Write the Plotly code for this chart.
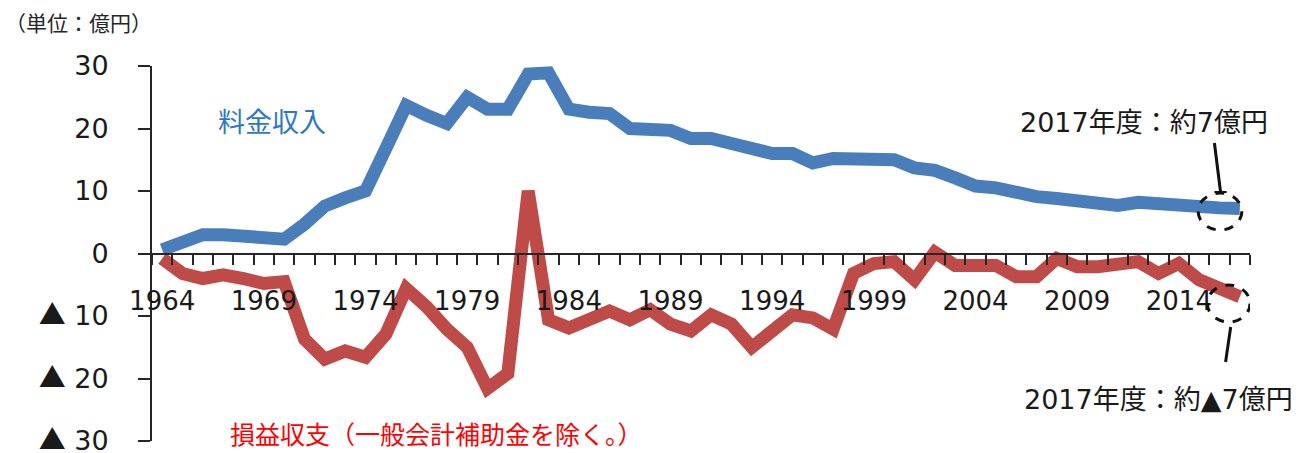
import plotly.graph_objects as go

years = list(range(1964, 2018))

# 料金収入 (億円)
revenue = [0.6, 1.8, 3.0, 3.0, 2.8, 2.3, 2.3, 4.7, 7.6, 8.9,
           10.0, 16.8, 23.7, 22.1, 20.8, 25.0, 23.1, 23.1, 28.7, 28.9,
           23.1, 22.6, 22.4, 20.0, 19.7, 19.7, 18.4, 18.4, 17.6, 16.6,
           16.0, 16.0, 14.5, 15.2, 15.0, 15.0, 15.0, 13.7, 13.3, 12.1,
           10.8, 10.5, 9.7, 9.1, 8.8, 8.4, 8.0, 7.7, 8.2, 7.9,
           7.5, 7.3, 7.3, 7.2]

# 損益収支（一般会計補助金を除く。） (億円)
balance = [-0.8, -3.2, -4.0, -3.4, -4.0, -4.8, -4.5, -13.7, -16.9, -15.6,
           -16.6, -12.9, -5.6, -8.5, -12.1, -15.0, -21.6, -19.2, 10.0, -10.6,
           -11.9, -10.6, -9.2, -10.6, -9.0, -11.3, -12.4, -9.8, -11.3, -15.0,
           -12.4, -9.8, -10.3, -12.1, -3.2, -1.6, -1.3, -4.2, 0.2, -1.9,
           -1.9, -1.9, -3.7, -3.7, -0.8, -2.1, -2.1, -1.6, -1.3, -3.2,
           -1.6, -4.2, -5.6, -6.9]

x_tick_years = [1964, 1969, 1974, 1979, 1984, 1989, 1994, 1999, 2004, 2009, 2014]
y_tick_vals = [-30, -20, -10, 0, 10, 20, 30]
TRI = "<span style='font-family:Noto Sans CJK JP'>▲</span>\u00a0"
y_tick_text = [TRI + "30", TRI + "20", TRI + "10", "0", "10", "20", "30"]

FONT = "DejaVu Sans, Noto Sans CJK JP"
JP = "Noto Sans CJK JP"
BLUE = "#4A7EBB"
RED = "#BE4B48"

fig = go.Figure()
fig.add_trace(go.Scatter(x=years, y=revenue, mode="lines",
                         line=dict(color=BLUE, width=13), showlegend=False))
fig.add_trace(go.Scatter(x=years, y=balance, mode="lines",
                         line=dict(color=RED, width=13), showlegend=False))

fig.update_layout(
    width=1306, height=453,
    margin=dict(l=152, r=56, t=66, b=12),
    paper_bgcolor="white", plot_bgcolor="white",
    font=dict(family=FONT, color="#1a1a1a"),
    xaxis=dict(
        range=[1963.5, 2017.5],
        anchor="free", position=0.5,
        automargin=False,
        showgrid=False, zeroline=False,
        showline=True, linecolor="#262626", linewidth=2,
        tickmode="array", tickvals=x_tick_years,
        ticks="", tickfont=dict(size=26, family=FONT, color="#1a1a1a"),
        ticklabelstandoff=24,
        minor=dict(tick0=1963.5, dtick=1, ticks="outside", ticklen=10,
                   tickwidth=2, tickcolor="#262626", showgrid=False),
        layer="above traces",
    ),
    yaxis=dict(
        range=[-30, 30],
        automargin=False,
        showgrid=False, zeroline=False,
        showline=True, linecolor="#262626", linewidth=2,
        tickmode="array", tickvals=y_tick_vals, ticktext=y_tick_text,
        ticks="outside", ticklen=12, tickwidth=2, tickcolor="#262626",
        tickfont=dict(size=27, family=FONT, color="#1a1a1a"),
        ticklabelstandoff=24,
        ticklabeloverflow="allow",
    ),
)

# texts
fig.add_annotation(xref="paper", yref="paper", x=-152/1098, y=1 + (66-22)/375,
                   xanchor="left", yanchor="middle", showarrow=False,
                   text="（単位：億円）", font=dict(family=JP, size=21, color="#262626"),
                   xshift=3)
fig.add_annotation(xref="x", yref="y", x=1969.4, y=21.36, xanchor="center", yanchor="middle",
                   showarrow=False, text="料金収入",
                   font=dict(family=JP, size=27, color="#2E78C2"))
fig.add_annotation(xref="x", yref="y", x=1977.5, y=-28.7, xanchor="center", yanchor="middle",
                   showarrow=False, text="損益収支（一般会計補助金を除く。）",
                   font=dict(family=JP, size=25, color="#FF0000"))
fig.add_annotation(xref="x", yref="y", x=2012.3, y=20.9, xanchor="center", yanchor="middle",
                   showarrow=False, text="2017年度：約7億円",
                   font=dict(family=FONT, size=27, color="#1a1a1a"))
fig.add_annotation(xref="x", yref="y", x=2013.0, y=-23.3, xanchor="center", yanchor="middle",
                   showarrow=False, text="2017年度：約▲7億円",
                   font=dict(family=FONT, size=27, color="#1a1a1a"))

# dashed circles
fig.add_shape(type="circle", xref="x", yref="y", x0=2014.95, x1=2017.1, y0=3.76, y1=9.68,
              line=dict(color="#111", width=3, dash="dash"))
fig.add_shape(type="circle", xref="x", yref="y", x0=2015.4, x1=2017.5, y0=-10.96, y1=-5.04,
              line=dict(color="#111", width=3, dash="dash"))
# leader lines
fig.add_shape(type="line", xref="x", yref="y", x0=2015.75, y0=17.68, x1=2016.05, y1=9.84,
              line=dict(color="#111", width=3))
fig.add_shape(type="line", xref="x", yref="y", x0=2015.75, x1=2016.35, y0=9.84, y1=9.84,
              line=dict(color="#111", width=2))
fig.add_shape(type="line", xref="x", yref="y", x0=2016.55, y0=-11.76, x1=2016.3, y1=-17.36,
              line=dict(color="#111", width=3))

fig.write_html("out.html")
